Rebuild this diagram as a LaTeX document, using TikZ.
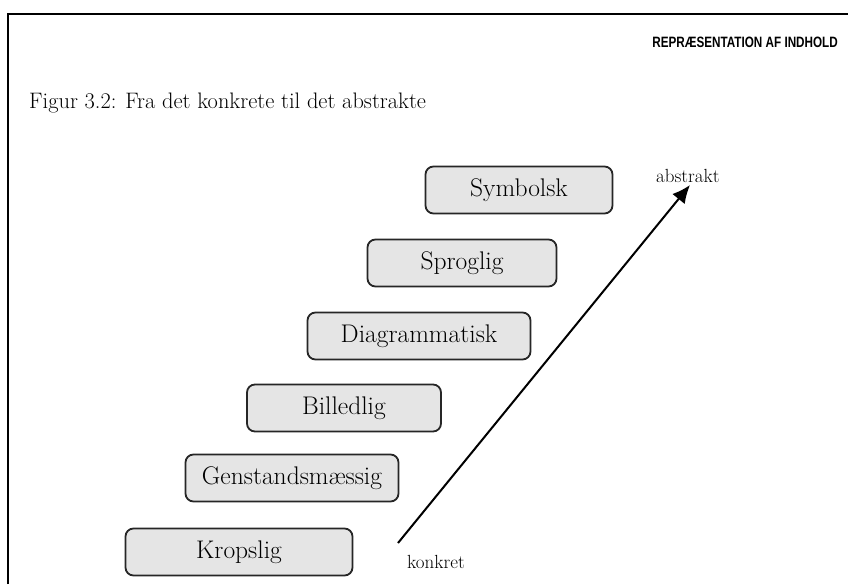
\documentclass[tikz,border=0pt]{standalone}
\usepackage{fontspec}
\newfontfamily\headfont[FakeStretch=0.78]{Liberation Sans}
\usetikzlibrary{arrows.meta}

\begin{document}
\begin{tikzpicture}[x=1pt,y=-1pt,
  level/.style={draw=black!85,line width=1.8pt,rounded corners=8pt,fill=black!10,
    minimum height=47pt,inner sep=0pt,font=\fontsize{25.5}{30}\selectfont},
  tag/.style={inner sep=0pt,font=\fontsize{19}{22}\selectfont}]
\useasboundingbox (0,0) rectangle (848,584);
\draw[line width=2.5pt] (8,584) -- (8,14) -- (848,14);
\node[anchor=east,inner sep=0pt,font=\headfont\bfseries\fontsize{15}{18}\selectfont] (head) at (838,42) {REPRÆSENTATION AF INDHOLD};
\node[anchor=west,inner sep=0pt,font=\fontsize{22.4}{26}\selectfont] (title) at (29,103) {Figur 3.2: Fra det konkrete til det abstrakte};
% trinene
\node[level,minimum width=187pt] (symb) at (519,190) {Symbolsk};
\node[level,minimum width=189pt] (sprog) at (462,263) {Sproglig};
\node[level,minimum width=223pt] (diag) at (419,336) {Diagrammatisk};
\node[level,minimum width=194pt] (bill) at (344,408) {Billedlig};
\node[level,minimum width=213pt] (gen) at (292,478) {Genstandsmæssig};
\node[level,minimum width=227pt] (krop) at (239,552) {Kropslig};
\node[tag,anchor=west] (konkret) at (407,562) {konkret};
\node[tag,anchor=west] (abstrakt) at (656,176) {abstrakt};
\coordinate (lo) at (398,543);
\coordinate (hi) at (690,185);
\draw[line width=2pt,-{Latex[length=18pt,width=16pt]}] (lo) -- (hi);
\end{tikzpicture}
\end{document}
